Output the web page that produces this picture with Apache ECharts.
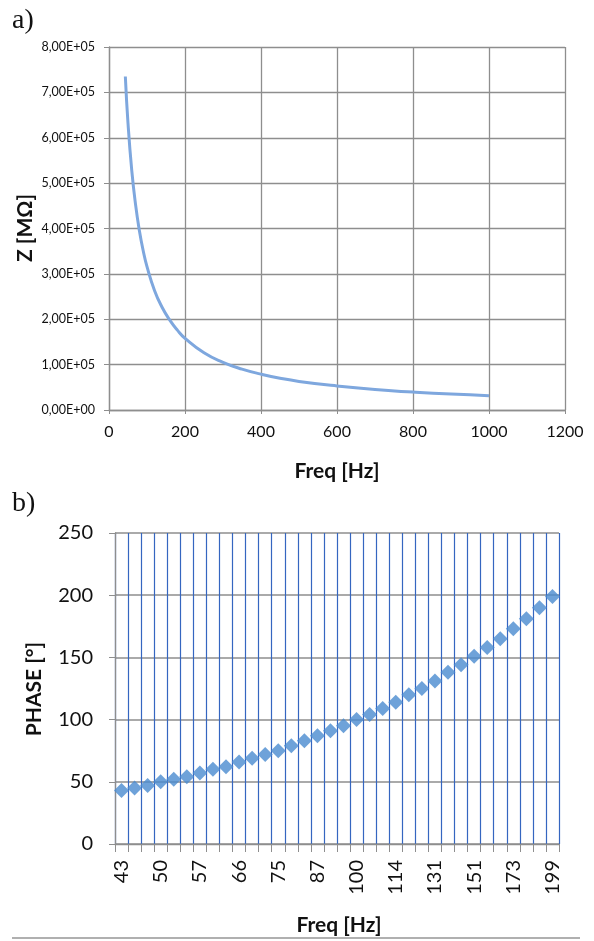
<!DOCTYPE html>
<html>
<head>
<meta charset="utf-8">
<script src="https://cdn.jsdelivr.net/npm/echarts@6/dist/echarts.min.js"></script>
<style>
  html, body { margin: 0; padding: 0; background: #fff; }
  #chart { width: 594px; height: 941px; }
</style>
</head>
<body>
<div id="chart"></div>
<script>
// a) impedance vs frequency
let zFreq = [43, 50, 60, 70, 80, 90, 100, 120, 140, 160, 180, 200, 250, 300, 350, 400, 450, 500, 600, 700, 800, 900, 1000];
let zValues = [735000, 632000, 527000, 452000, 395000, 351000, 316000, 263000, 226000, 198000, 176000, 158000, 126000, 105000, 90000, 79000, 70000, 63000, 53000, 45000, 39500, 35000, 31600];

// b) phase vs frequency (category axis)
let phaseFreq = ['43', '45', '47', '50', '52', '54', '57', '60', '63', '66', '69', '72', '75', '79', '83', '87', '91', '95',
    '100', '104', '109', '114', '120', '125', '131', '138', '144', '151', '158', '165', '173', '181', '190', '199'];
let phaseValues = [43, 45, 47, 50, 52, 54, 57, 60, 62, 66, 69, 72, 75, 79, 83, 87, 91, 95,
    100, 104, 109, 114, 120, 125, 131, 138, 144, 151, 158, 165, 173, 181, 190, 199];

let gridGray = '#8e8e8e';
let font = 'Lato';

// 8,00E+05 style
function sciLabel(v) {
    if (v === 0) return '0,00E+00';
    let exp = Math.floor(Math.log10(v));
    let mant = (v / Math.pow(10, exp)).toFixed(2).replace('.', ',');
    return mant + 'E+' + (exp < 10 ? '0' + exp : exp);
}

let chart = echarts.init(document.getElementById('chart'));

chart.setOption({
    animation: false,
    backgroundColor: '#fff',
    grid: [
        { left: 109, right: 29, top: 47, height: 363 },
        { left: 115, right: 35, top: 533, height: 311 }
    ],
    xAxis: [
        {
            gridIndex: 0,
            type: 'value',
            min: 0, max: 1200, interval: 200,
            axisLine: { show: true, lineStyle: { color: gridGray, width: 1.3 } },
            axisTick: { show: true, length: 4, lineStyle: { color: gridGray } },
            splitLine: { show: true, lineStyle: { color: gridGray, width: 1.3 } },
            axisLabel: { color: '#111', fontFamily: font, fontSize: 16, margin: 14, formatter: v => String(v) }
        },
        {
            gridIndex: 1,
            type: 'category',
            data: phaseFreq,
            boundaryGap: true,
            axisLine: { show: true, lineStyle: { color: gridGray, width: 1.3 } },
            axisTick: { show: true, interval: 0, length: 8, lineStyle: { color: gridGray } },
            splitLine: { show: true, interval: 0, lineStyle: { color: '#3566c0', width: 1.2 } },
            axisLabel: { interval: 2, rotate: 90, color: '#111', fontFamily: font, fontSize: 20, margin: 16 }
        }
    ],
    yAxis: [
        {
            gridIndex: 0,
            type: 'value',
            min: 0, max: 800000, interval: 100000,
            axisLine: { show: true, lineStyle: { color: gridGray, width: 1.3 } },
            axisTick: { show: true, length: 5, lineStyle: { color: gridGray } },
            splitLine: { show: true, lineStyle: { color: gridGray, width: 1.3 } },
            axisLabel: { color: '#111', fontFamily: font, fontSize: 12.5, margin: 14, formatter: sciLabel }
        },
        {
            gridIndex: 1,
            type: 'value',
            min: 0, max: 250, interval: 50,
            axisLine: { show: true, lineStyle: { color: gridGray, width: 1.3 } },
            axisTick: { show: true, length: 6, lineStyle: { color: gridGray } },
            splitLine: { show: true, lineStyle: { color: gridGray, width: 1.6 } },
            axisLabel: { color: '#111', fontFamily: font, fontSize: 20, margin: 22 }
        }
    ],
    series: [
        {
            type: 'line',
            xAxisIndex: 0,
            yAxisIndex: 0,
            smooth: true,
            showSymbol: false,
            lineStyle: { color: '#7ea7de', width: 3 },
            data: zFreq.map((f, i) => [f, zValues[i]])
        },
        {
            type: 'scatter',
            xAxisIndex: 1,
            yAxisIndex: 1,
            symbol: 'diamond',
            symbolSize: 15,
            itemStyle: { color: '#4a8bd0' },
            data: phaseValues
        }
    ],
    graphic: [
        { type: 'text', x: 12, y: 21, style: { text: 'a)', font: '28px "Liberation Serif"', fill: '#111', verticalAlign: 'middle' } },
        { type: 'text', x: 12, y: 504, style: { text: 'b)', font: '28px "Liberation Serif"', fill: '#111', verticalAlign: 'middle' } },
        { type: 'text', x: 25, y: 228, rotation: Math.PI / 2, style: { text: 'Z [MΩ]', font: 'bold 21px Lato', fill: '#111', align: 'center', verticalAlign: 'middle' } },
        { type: 'text', x: 337, y: 471, style: { text: 'Freq [Hz]', font: 'bold 21px Lato', fill: '#111', align: 'center', verticalAlign: 'middle' } },
        { type: 'text', x: 34, y: 689, rotation: Math.PI / 2, style: { text: 'PHASE [°]', font: 'bold 21px Lato', fill: '#111', align: 'center', verticalAlign: 'middle' } },
        { type: 'text', x: 339, y: 925, style: { text: 'Freq [Hz]', font: 'bold 21px Lato', fill: '#111', align: 'center', verticalAlign: 'middle' } },
        { type: 'line', z: 100, shape: { x1: 12, y1: 938, x2: 580, y2: 938 }, style: { stroke: '#b0b0b0', lineWidth: 2 } }
    ]
});
</script>
</body>
</html>
